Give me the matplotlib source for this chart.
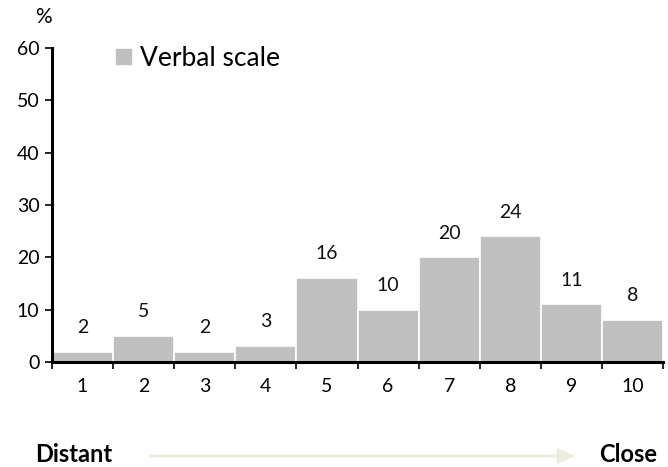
import matplotlib
matplotlib.use("Agg")
import matplotlib.pyplot as plt
from matplotlib.patches import Patch, FancyArrow

plt.rcParams['font.family'] = ['Lato', 'DejaVu Sans']

# Distribution of answers on the 1-10 verbal scale
categories = ['1', '2', '3', '4', '5', '6', '7', '8', '9', '10']
shares = [2, 5, 2, 3, 16, 10, 20, 24, 11, 8]
y_ticks = [0, 10, 20, 30, 40, 50, 60]
series_name = 'Verbal scale'
bar_color = '#c0c0c0'

fig = plt.figure(figsize=(6.68, 4.67), dpi=100)
ax = fig.add_axes([52 / 668, 105 / 467, 611 / 668, 314 / 467])

x = list(range(len(categories)))
ax.bar(x, shares, width=1.0, color=bar_color, edgecolor='white', linewidth=1.2, zorder=2)

for xi, v in zip(x, shares):
    ax.annotate(str(v), (xi, v), xytext=(0, 17.5), textcoords='offset points',
                ha='center', va='center', fontsize=14, color='#111111')

ax.set_xlim(-0.5, len(categories) - 0.5)
ax.set_ylim(0, 60)
ax.set_yticks(y_ticks)
ax.tick_params(axis='y', labelsize=14, length=5, width=1.2, direction='out', pad=4)

# category labels sit between boundary tick marks
ax.set_xticks([i - 0.5 for i in range(len(categories) + 1)])
ax.set_xticklabels([])
ax.set_xticks(x, minor=True)
ax.set_xticklabels(categories, minor=True)
ax.tick_params(axis='x', which='minor', length=0, labelsize=14, pad=11.5)
ax.tick_params(axis='x', which='major', length=5, width=1.2, direction='out')

for side in ['top', 'right']:
    ax.spines[side].set_visible(False)
for side in ['left', 'bottom']:
    ax.spines[side].set_linewidth(2.2)
    ax.spines[side].set_color('black')

fig.text(43 / 668, 1 - 17 / 467, '%', fontsize=15, ha='center', va='center')

ax.legend(handles=[Patch(color=bar_color, label=series_name)], loc='center left',
          bbox_to_anchor=(0.105, 0.967), frameon=False, fontsize=19,
          handlelength=0.55, handleheight=0.55, handletextpad=0.35,
          borderaxespad=0, borderpad=0)

# direction of the scale
fig.text(74 / 668, 1 - 455 / 467, 'Distant', fontsize=17, fontweight='bold',
         ha='center', va='center')
fig.text(628 / 668, 1 - 455 / 467, 'Close', fontsize=17, fontweight='bold',
         ha='center', va='center')
fig.patches.append(FancyArrow(
    150 / 668, 1 - 456 / 467, 424 / 668, 0, width=0.004, head_width=0.032,
    head_length=0.025, length_includes_head=True, color='#eeece1',
    transform=fig.transFigure, figure=fig))

fig.savefig('out.png', dpi=100)
